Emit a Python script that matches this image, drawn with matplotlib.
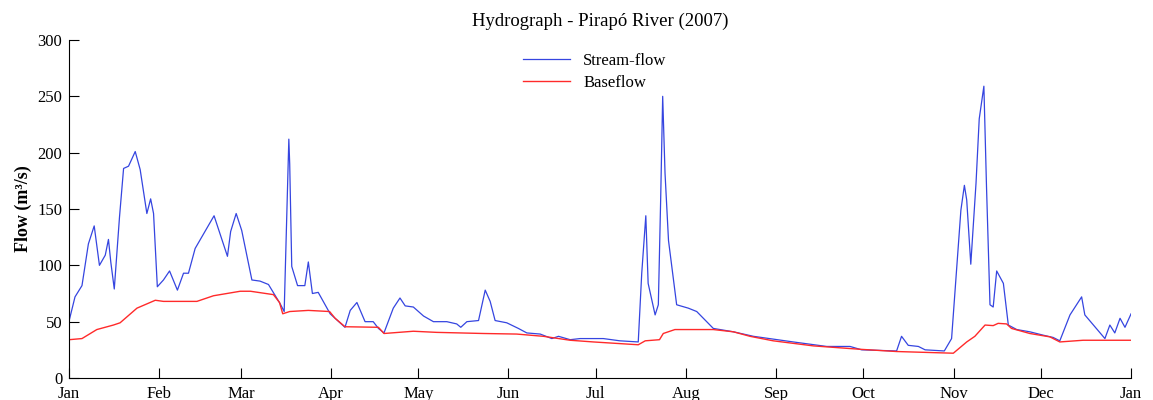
import numpy as np
import matplotlib
matplotlib.use('Agg')
import matplotlib.pyplot as plt
import matplotlib.dates as mdates

# dia do ano (2007) e vazao
flow_day = [0, 2, 4.4, 6.6, 8.6, 10.4, 12.4, 13.5, 14.3, 15.5, 17.3, 18.7, 20.4, 22.7, 24.4,
            26.7, 28, 29, 30.3, 32.4, 34.5, 37.2, 39.3, 41, 43.3, 46.2, 49.8, 54.4, 55.5, 57.4,
            59.3, 62.8, 65.6, 68.5, 72.5, 73.9, 74.8, 75.5, 75.8, 76.5, 78.5, 81, 82.2, 83.6,
            85.6, 89.7, 94.8, 96.6, 98.9, 101.7, 104.5, 106.3, 108.2, 111.4, 113.7, 115.5, 118.3,
            121.8, 125.2, 129.8, 133.2, 134.6, 136.7, 140.7, 143, 144.7, 146.4, 150.4, 154.4,
            157.3, 161.9, 165.9, 168.2, 172.2, 175.6, 183.6, 189.3, 195.6, 196.8, 198.2, 199,
            201.4, 202.5, 203.3, 204, 204.8, 206, 208.8, 212.8, 215.7, 221.4, 228.3, 235.2,
            248.9, 260.4, 268.4, 272.4, 284.4, 286.1, 288.4, 291.9, 294.2, 300.8, 303.3, 305,
            306.5, 307.7, 308.5, 309.9, 311.7, 312.8, 314.4, 315.3, 316.5, 317.6, 318.8, 321.1,
            322.8, 325.7, 330.2, 334.8, 338.2, 340.5, 344, 348, 349.1, 356, 357.7, 359.4, 361.2,
            362.9, 365]
flow = [51, 72, 82, 119, 135, 100, 109, 123, 103, 79, 143, 186, 188, 201, 185,
        146, 159, 146, 81, 87, 95, 78, 93, 93, 115, 128, 144, 108, 130, 146,
        131, 87, 86, 83, 66, 59, 146, 212, 190, 99, 82, 82, 103, 75,
        76, 57, 45, 60, 67, 50, 50, 44, 40, 62, 71, 64, 63,
        55, 50, 50, 48, 45, 50, 51, 78, 68, 51, 49, 44,
        40, 39, 35, 37, 34, 35, 35, 33, 32, 93, 144, 84,
        56, 65, 158, 250, 182, 122, 65, 62, 59, 44, 41, 37,
        32, 28, 28, 25, 24, 37, 29, 28, 25, 24, 35, 96,
        149, 171, 158, 101, 173, 230, 259, 170, 65, 63, 95, 84,
        47, 43, 41, 38, 36, 33, 56, 72, 56, 35, 47, 40, 53,
        45, 57]

base_day = [0, 4.4, 9.5, 15.2, 17.5, 23.3, 29.6, 32.4, 43.9, 49.6, 54.2, 58.8, 62.3, 70.2,
            72.3, 73.4, 75.8, 82.2, 89.5, 91.4, 94.8, 106.3, 108.2, 118.3, 126.3, 142.4,
            153.8, 163, 172.2, 180.2, 195.6, 198, 202.9, 204.2, 208.2, 221.4, 228.3, 234,
            242, 255.8, 271.8, 284.4, 303.9, 308.5, 311.3, 314.8, 317.6, 319.3, 322.2,
            323.9, 330.2, 337.1, 340.5, 348.5, 365]
baseflow = [34, 35, 43, 47, 49, 62, 69, 68, 68, 73, 75, 77, 77, 74,
            67, 57, 59, 60, 59, 53, 45.5, 45, 39.5, 41.5, 40.5, 39.5,
            39, 37, 33.5, 32, 29.5, 33, 34, 39.5, 43, 43, 41, 37,
            33, 28.5, 25.5, 23.5, 22, 32, 37, 47, 46.5, 48.5, 48,
            44, 39.5, 36.5, 32, 33.5, 33.5]

start = np.datetime64('2007-01-01T00:00')
t_flow = start + (np.array(flow_day) * 24 * 60).astype('timedelta64[m]')
t_base = start + (np.array(base_day) * 24 * 60).astype('timedelta64[m]')

plt.rcParams['font.family'] = ['Liberation Serif', 'DejaVu Serif']

fig = plt.figure(figsize=(11.53, 4.0), dpi=100)
ax = fig.add_axes([0.06, 0.055, 0.921, 0.845])

ax.plot(t_flow, flow, color='#3545e0', lw=0.9, label='Stream-flow')
ax.plot(t_base, baseflow, color='#ff2a2a', lw=1.0, label='Baseflow')

ax.set_xlim(np.datetime64('2007-01-01'), np.datetime64('2008-01-01'))
ax.set_ylim(0, 300)
ax.set_yticks(range(0, 301, 50))
ax.xaxis.set_major_locator(mdates.MonthLocator())
ax.xaxis.set_major_formatter(mdates.DateFormatter('%b'))

ax.spines['top'].set_visible(False)
ax.spines['right'].set_visible(False)
ax.tick_params(direction='in', length=7, labelsize=12)
ax.tick_params(axis='x', pad=6)
ax.tick_params(axis='y', pad=5)

ax.set_title('Hydrograph - Pirapó River (2007)', fontsize=13.5, pad=10)
ax.set_ylabel('Flow (m³/s)', fontsize=13, fontweight='bold', labelpad=4)
ax.legend(loc='upper center', bbox_to_anchor=(0.495, 1.005), frameon=False, fontsize=12,
          handlelength=2.8, labelspacing=0.35)

fig.savefig('out.png', dpi=100)
